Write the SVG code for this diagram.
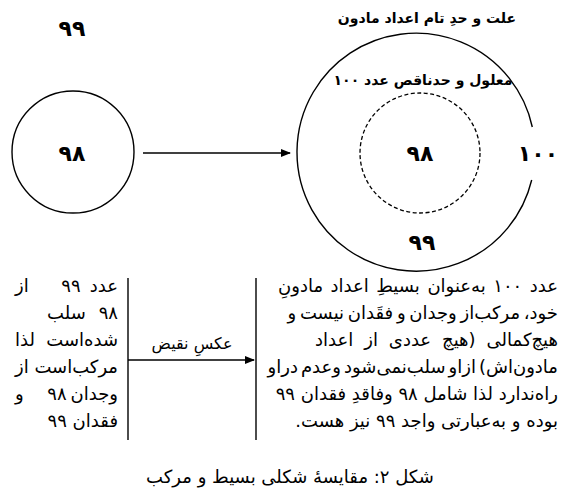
<svg xmlns="http://www.w3.org/2000/svg" width="578" height="492" viewBox="0 0 578 492">
<defs>
<style>
text{font-family:"DejaVu Sans",sans-serif;fill:#000;direction:rtl}
.num{font-size:22px;font-weight:bold;text-anchor:middle}
.lbl{font-size:14px;font-weight:bold;text-anchor:middle}
.body{font-size:18px;text-anchor:start}
.bl{font-size:18px;text-anchor:end}
.bm{font-size:18px;text-anchor:middle}
.cap{font-size:18px;text-anchor:middle}
.arr{font-size:16px;text-anchor:middle}
.line{stroke:#000;stroke-width:1.4;fill:none}
.dash{stroke:#000;stroke-width:1.3;fill:none;stroke-dasharray:4 2.5}
</style>
<marker id="ah" markerWidth="10" markerHeight="8" refX="9" refY="4" orient="auto" markerUnits="userSpaceOnUse">
<path d="M0,0 L10,4 L0,8 Z" fill="#000"/>
</marker>
</defs>
<rect width="578" height="492" fill="#fff"/>
<g id="simple">
<text class="num" x="72" y="36">۹۹</text>
<circle class="line" cx="73" cy="152" r="61"/>
<text class="num" x="72" y="161">۹۸</text>
</g>
<g id="compound">
<text class="lbl" x="427" y="23">علت و حدِ تام اعداد مادون</text>
<path class="line" d="M531.7 180 A119 119 0 1 1 532.3 127"/>
<text class="lbl" x="423" y="85">معلول و حدناقص عدد ۱۰۰</text>
<circle class="dash" cx="420" cy="153" r="60"/>
<text class="num" x="420" y="161">۹۸</text>
<text class="num" x="538" y="161">۱۰۰</text>
<text class="num" x="422" y="250">۹۹</text>
</g>
<g id="left-text">
<text class="body" x="118" y="292">عدد</text><text class="bm" x="71" y="292">۹۹</text><text class="bl" x="15" y="292">از</text>
<text class="body" x="118" y="319">۹۸</text><text class="bl" x="47" y="319">سلب</text>
<text class="body" x="118" y="346">شده‌است</text><text class="bl" x="15" y="346">لذا</text>
<text class="body" x="118" y="373">مرکب‌است</text><text class="bl" x="15" y="373">از</text>
<text class="body" x="118" y="400">وجدان</text><text class="bm" x="57" y="400">۹۸</text><text class="bl" x="15" y="400">و</text>
<text class="body" x="118" y="427">فقدان ۹۹</text>
</g>
<g id="right-text">
<text class="body" x="558" y="292" word-spacing="1.8">عدد ۱۰۰ به‌عنوان بسیطِ اعداد مادونِ</text>
<text class="body" x="558" y="319" word-spacing="-2">خود، مرکب‌از وجدان و فقَدان نیست و</text>
<text class="body" x="558" y="346" word-spacing="5.2">هیچ‌کمالی (هیچ عددی از اعداد</text>
<text class="body" x="558" y="373" word-spacing="-2.7">مادون‌اش) ازاو سلب‌نمی‌شود وعدم دراو</text>
<text class="body" x="558" y="400" word-spacing="0">راه‌ندارد لذا شامل ۹۸ وفاقدِ فقدان ۹۹</text>
<text class="body" x="558" y="427">بوده و به‌عبارتی واجد ۹۹ نیز هست.</text>
</g>
<g id="connectors">
<line class="line" x1="143" y1="153" x2="290" y2="153" marker-end="url(#ah)"/>
<line class="line" x1="128" y1="278" x2="128" y2="440"/>
<line class="line" x1="256" y1="278" x2="256" y2="440"/>
<line class="line" x1="128" y1="360" x2="254" y2="360" marker-end="url(#ah)"/>
<text class="arr" x="192" y="349">عکسِ نقیض</text>
</g>
<g id="caption">
<text class="cap" x="290" y="483">شکل ۲: مقایسهٔ شکلی بسیط و مرکب</text>
</g>
</svg>
